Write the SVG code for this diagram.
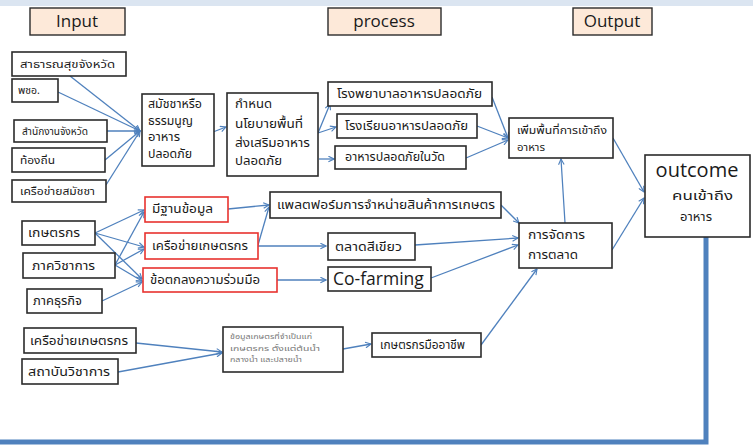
<svg xmlns="http://www.w3.org/2000/svg" width="753" height="445" viewBox="0 0 753 445">
<defs>
<marker id="arr" viewBox="0 0 10 10" refX="9" refY="5" markerWidth="7" markerHeight="7" orient="auto" markerUnits="userSpaceOnUse">
<path d="M1,1 L9,5 L1,9" fill="none" stroke="#4f81bd" stroke-width="1.6"/>
</marker>
<style>
.b{fill:#fff;stroke:#2b2b2b;stroke-width:1.6}
.r{fill:#fff;stroke:#e8322f;stroke-width:1.6}
.h{fill:#fde9d9;stroke:#2b2b2b;stroke-width:1.4}
.t{font-family:"Noto Sans Thai","Tahoma","DejaVu Sans","Noto Sans",sans-serif;font-size:11.5px;fill:#1a1a1a}
.t2{font-family:"Noto Sans Thai","Tahoma","DejaVu Sans","Noto Sans",sans-serif;font-size:10.5px;fill:#1a1a1a}
.tl{font-family:"Noto Sans Thai","Tahoma","DejaVu Sans","Noto Sans",sans-serif;font-size:12.5px;fill:#1a1a1a}
.s{font-family:"Noto Sans Thai","Tahoma","DejaVu Sans","Noto Sans",sans-serif;font-size:7px;fill:#777}
.e{font-family:"Open Sans","Liberation Sans",sans-serif;fill:#1a1a1a}
.c line{stroke:#4f81bd;stroke-width:1.3;fill:none;marker-end:url(#arr)}
</style>
</defs>
<rect x="0" y="0" width="753" height="6" fill="#dbe5f1"/>

<g id="hdr-input"><rect class="h" x="30" y="8" width="95" height="27"/><text class="e" x="77" y="27" font-size="17" text-anchor="middle">Input</text></g>
<g id="hdr-process"><rect class="h" x="328" y="8" width="113" height="27"/><text class="e" x="384" y="27" font-size="17" text-anchor="middle">process</text></g>
<g id="hdr-output"><rect class="h" x="573" y="8" width="79" height="27"/><text class="e" x="612" y="27" font-size="17" text-anchor="middle">Output</text></g>

<g class="c" id="connectors">
<line x1="70" y1="76" x2="140" y2="131"/>
<line x1="58" y1="92" x2="140" y2="131"/>
<line x1="107" y1="131" x2="140" y2="131"/>
<line x1="105" y1="160" x2="140" y2="131"/>
<line x1="106" y1="185" x2="140" y2="131"/>
<line x1="213" y1="132" x2="226" y2="127"/>
<line x1="318" y1="133" x2="330" y2="104"/>
<line x1="318" y1="133" x2="336" y2="127"/>
<line x1="319" y1="159" x2="334" y2="159"/>
<line x1="492" y1="97" x2="508" y2="138"/>
<line x1="477" y1="126" x2="508" y2="138"/>
<line x1="466" y1="158" x2="508" y2="140"/>
<line x1="613" y1="138" x2="644" y2="192"/>
<line x1="565" y1="223" x2="561" y2="159"/>
<line x1="612" y1="250" x2="644" y2="198"/>
<line x1="95" y1="233" x2="144" y2="210"/>
<line x1="95" y1="233" x2="144" y2="247"/>
<line x1="95" y1="233" x2="142" y2="279"/>
<line x1="115" y1="265" x2="144" y2="212"/>
<line x1="115" y1="265" x2="144" y2="249"/>
<line x1="115" y1="265" x2="142" y2="281"/>
<line x1="102" y1="301" x2="142" y2="282"/>
<line x1="228" y1="209" x2="269" y2="205"/>
<line x1="258" y1="245" x2="269" y2="207"/>
<line x1="258" y1="246" x2="326" y2="246"/>
<line x1="277" y1="280" x2="326" y2="280"/>
<line x1="501" y1="205" x2="519" y2="223"/>
<line x1="415" y1="245" x2="518" y2="238"/>
<line x1="431" y1="278" x2="518" y2="245"/>
<line x1="481" y1="345" x2="537" y2="269"/>
<line x1="136" y1="343" x2="222" y2="352"/>
<line x1="118" y1="372" x2="222" y2="353"/>
<line x1="343" y1="349" x2="371" y2="344"/>
</g>
<path d="M706,237 V442 H0" fill="none" stroke="#4f81bd" stroke-width="5"/>

<g id="n-sso"><rect class="b" x="12" y="52" width="114" height="24"/><text class="t2" x="20" y="68" textLength="95" lengthAdjust="spacingAndGlyphs">สาธารณสุขจังหวัด</text></g>
<g id="n-pcho"><rect class="b" x="12" y="79" width="46" height="23"/><text class="t2" x="18" y="94">พชอ.</text></g>
<g id="n-office"><rect class="b" x="14" y="120" width="93" height="22"/><text class="t2" x="22" y="135" textLength="66" lengthAdjust="spacingAndGlyphs">สำนักงานจังหวัด</text></g>
<g id="n-local"><rect class="b" x="12" y="148" width="93" height="24"/><text class="t2" x="20" y="164" textLength="35" lengthAdjust="spacingAndGlyphs">ท้องถิ่น</text></g>
<g id="n-assembly-net"><rect class="b" x="12" y="180" width="94" height="22"/><text class="t2" x="20" y="195" textLength="75" lengthAdjust="spacingAndGlyphs">เครือข่ายสมัชชา</text></g>

<g id="n-assembly"><rect class="b" x="142" y="94" width="72" height="72"/>
<text class="t" x="148" y="108" textLength="54" lengthAdjust="spacingAndGlyphs">สมัชชาหรือ</text>
<text class="t" x="148" y="125" textLength="45" lengthAdjust="spacingAndGlyphs">ธรรมนูญ</text>
<text class="t" x="148" y="141" textLength="32" lengthAdjust="spacingAndGlyphs">อาหาร</text>
<text class="t" x="148" y="158" textLength="44" lengthAdjust="spacingAndGlyphs">ปลอดภัย</text></g>
<g id="n-policy"><rect class="b" x="227" y="93" width="91" height="83"/>
<text class="tl" x="235" y="108" textLength="37" lengthAdjust="spacingAndGlyphs">กำหนด</text>
<text class="tl" x="235" y="128" textLength="68" lengthAdjust="spacingAndGlyphs">นโยบายพื้นที่</text>
<text class="tl" x="235" y="147" textLength="75" lengthAdjust="spacingAndGlyphs">ส่งเสริมอาหาร</text>
<text class="tl" x="235" y="165" textLength="47" lengthAdjust="spacingAndGlyphs">ปลอดภัย</text></g>

<g id="n-hospital"><rect class="b" x="328" y="82" width="164" height="24"/><text class="t" x="337" y="98" textLength="145" lengthAdjust="spacingAndGlyphs">โรงพยาบาลอาหารปลอดภัย</text></g>
<g id="n-school"><rect class="b" x="337" y="114" width="140" height="24"/><text class="t" x="345" y="130" textLength="123" lengthAdjust="spacingAndGlyphs">โรงเรียนอาหารปลอดภัย</text></g>
<g id="n-temple"><rect class="b" x="335" y="146" width="131" height="23"/><text class="t" x="345" y="161" textLength="100" lengthAdjust="spacingAndGlyphs">อาหารปลอดภัยในวัด</text></g>
<g id="n-access"><rect class="b" x="509" y="118" width="104" height="40"/>
<text class="t2" x="517" y="134" textLength="90" lengthAdjust="spacingAndGlyphs">เพิ่มพื้นที่การเข้าถึง</text>
<text class="t2" x="517" y="151" textLength="28" lengthAdjust="spacingAndGlyphs">อาหาร</text></g>

<g id="n-outcome"><rect class="b" x="645" y="155" width="105" height="82"/>
<text class="e" x="697" y="177" font-size="20" text-anchor="middle">outcome</text>
<text class="tl" x="672" y="200" font-size="13" textLength="61" lengthAdjust="spacingAndGlyphs">คนเข้าถึง</text>
<text class="tl" x="680" y="221" font-size="13" textLength="32" lengthAdjust="spacingAndGlyphs">อาหาร</text></g>

<g id="n-farmer"><rect class="b" x="22" y="221" width="73" height="24"/><text class="t" x="28" y="237" textLength="52" lengthAdjust="spacingAndGlyphs">เกษตรกร</text></g>
<g id="n-academic"><rect class="b" x="23" y="253" width="92" height="25"/><text class="t" x="32" y="270" textLength="63" lengthAdjust="spacingAndGlyphs">ภาควิชาการ</text></g>
<g id="n-business"><rect class="b" x="27" y="289" width="75" height="24"/><text class="t" x="33" y="305" textLength="49" lengthAdjust="spacingAndGlyphs">ภาคธุรกิจ</text></g>

<g id="n-database"><rect class="r" x="145" y="197" width="83" height="25"/><text class="t" x="152" y="213" textLength="61" lengthAdjust="spacingAndGlyphs">มีฐานข้อมูล</text></g>
<g id="n-farmnet"><rect class="r" x="145" y="233" width="113" height="26"/><text class="t" x="152" y="250" textLength="96" lengthAdjust="spacingAndGlyphs">เครือข่ายเกษตรกร</text></g>
<g id="n-mou"><rect class="r" x="143" y="268" width="134" height="24"/><text class="t" x="150" y="284" textLength="110" lengthAdjust="spacingAndGlyphs">ข้อตกลงความร่วมมือ</text></g>

<g id="n-platform"><rect class="b" x="270" y="192" width="231" height="26"/><text class="t" x="277" y="209" textLength="218" lengthAdjust="spacingAndGlyphs">แพลตฟอร์มการจำหน่ายสินค้าการเกษตร</text></g>
<g id="n-greenmarket"><rect class="b" x="328" y="233" width="87" height="27"/><text class="t" x="335" y="251" textLength="67" lengthAdjust="spacingAndGlyphs">ตลาดสีเขียว</text></g>
<g id="n-cofarming"><rect class="b" x="328" y="267" width="103" height="24"/><text class="e" x="333" y="285" font-size="17.5">Co-farming</text></g>
<g id="n-marketing"><rect class="b" x="519" y="223" width="93" height="45"/>
<text class="t" x="528" y="239" textLength="57" lengthAdjust="spacingAndGlyphs">การจัดการ</text>
<text class="t" x="528" y="259" textLength="50" lengthAdjust="spacingAndGlyphs">การตลาด</text></g>

<g id="n-farmnet2"><rect class="b" x="24" y="328" width="112" height="25"/><text class="t" x="30" y="345" textLength="98" lengthAdjust="spacingAndGlyphs">เครือข่ายเกษตรกร</text></g>
<g id="n-institute"><rect class="b" x="22" y="359" width="96" height="25"/><text class="t" x="28" y="376" textLength="82" lengthAdjust="spacingAndGlyphs">สถาบันวิชาการ</text></g>
<g id="n-info"><rect class="b" x="223" y="327" width="120" height="45"/>
<text class="s" x="230" y="339" textLength="82" lengthAdjust="spacingAndGlyphs">ข้อมูลเกษตรที่จำเป็นแก่</text>
<text class="s" x="230" y="351" textLength="90" lengthAdjust="spacingAndGlyphs">เกษตรกร ตั้งแต่ต้นน้ำ</text>
<text class="s" x="230" y="362" textLength="72" lengthAdjust="spacingAndGlyphs">กลางน้ำ และปลายน้ำ</text></g>
<g id="n-profarmer"><rect class="b" x="372" y="333" width="109" height="24"/><text class="t" x="380" y="349" textLength="85" lengthAdjust="spacingAndGlyphs">เกษตรกรมืออาชีพ</text></g>
</svg>
